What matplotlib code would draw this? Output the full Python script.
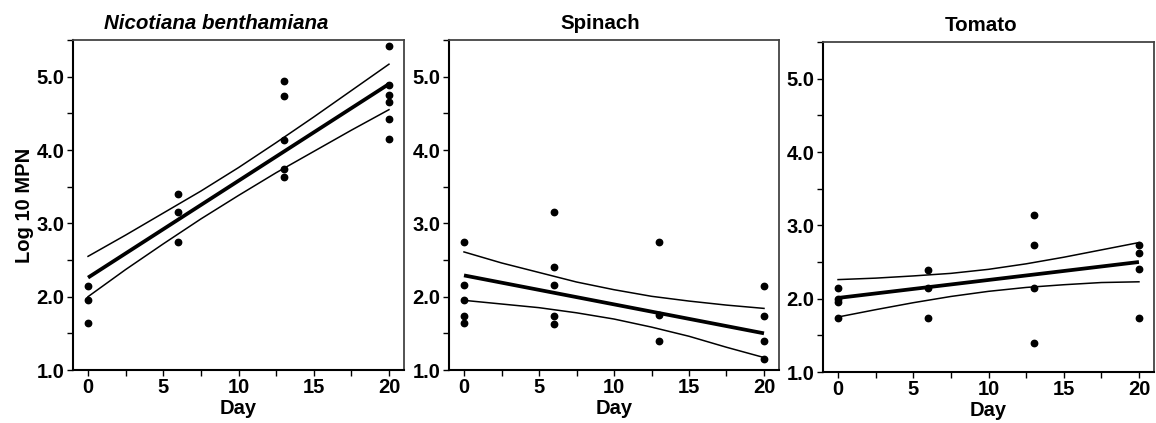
import numpy as np
import matplotlib
matplotlib.use("Agg")
import matplotlib.pyplot as plt
from matplotlib.ticker import MultipleLocator, FormatStrFormatter

plt.rcParams['font.family'] = ['Liberation Sans', 'DejaVu Sans']
plt.rcParams['font.weight'] = 'bold'

titles = ["Nicotiana benthamiana", "Spinach", "Tomato"]

# sampling days and log10 MPN replicates per plant
days = [0, 6, 13, 20]
nb_counts = [[2.14, 1.96, 1.64],
             [3.40, 3.15, 2.74],
             [4.94, 4.74, 4.14, 3.74, 3.63],
             [5.42, 4.89, 4.75, 4.65, 4.42, 4.15]]
spinach_counts = [[2.74, 2.16, 1.95, 1.74, 1.64],
                  [3.15, 2.40, 2.16, 1.74, 1.63],
                  [2.75, 1.75, 1.40],
                  [2.15, 1.74, 1.39, 1.15]]
tomato_counts = [[2.15, 1.99, 1.95, 1.74],
                 [2.39, 2.15, 1.73],
                 [3.14, 2.73, 2.15, 1.39],
                 [2.73, 2.62, 2.41, 1.73]]

# regression line at day 0 and day 20
fit_day0 = [2.26, 2.29, 2.01]
fit_day20 = [4.90, 1.50, 2.50]

# 95% confidence band
band_days = [0, 2.5, 5, 7.5, 10, 12.5, 15, 17.5, 20]
nb_upper = [2.55, 2.84, 3.14, 3.44, 3.76, 4.10, 4.45, 4.81, 5.17]
nb_lower = [2.00, 2.37, 2.72, 3.06, 3.38, 3.69, 3.98, 4.27, 4.55]
spinach_upper = [2.61, 2.46, 2.33, 2.20, 2.095, 2.005, 1.94, 1.885, 1.84]
spinach_lower = [1.95, 1.90, 1.85, 1.78, 1.695, 1.585, 1.46, 1.31, 1.17]
tomato_upper = [2.26, 2.28, 2.31, 2.345, 2.40, 2.475, 2.565, 2.665, 2.765]
tomato_lower = [1.75, 1.85, 1.945, 2.03, 2.10, 2.153, 2.19, 2.22, 2.23]

counts = [nb_counts, spinach_counts, tomato_counts]
uppers = [nb_upper, spinach_upper, tomato_upper]
lowers = [nb_lower, spinach_lower, tomato_lower]

W, H = 1156, 423
fig = plt.figure(figsize=(W / 100, H / 100), dpi=100)

# axes boxes in pixels: left, top, right, bottom
boxes = [(73, 40, 404, 370), (449, 40, 779, 370), (823, 42, 1154, 372)]
title_x = [0.434, 0.458, 0.479]

for i, (l, t, r, b) in enumerate(boxes):
    ax = fig.add_axes([l / W, (H - b) / H, (r - l) / W, (b - t) / H])

    for d, vals in zip(days, counts[i]):
        ax.plot([d] * len(vals), vals, 'o', color='black', ms=4.6, zorder=3)

    ax.plot([0, 20], [fit_day0[i], fit_day20[i]], color='black', lw=2.7,
            solid_capstyle='butt')
    ax.plot(band_days, uppers[i], color='black', lw=1.1)
    ax.plot(band_days, lowers[i], color='black', lw=1.1)

    ax.set_xlim(-1, 21)
    ax.set_ylim(1.0, 5.5)
    ax.xaxis.set_major_locator(MultipleLocator(5))
    ax.xaxis.set_minor_locator(MultipleLocator(2.5))
    ax.yaxis.set_minor_locator(MultipleLocator(0.5))
    ax.yaxis.set_major_formatter(FormatStrFormatter('%.1f'))
    ax.set_yticks([1.0, 2.0, 3.0, 4.0, 5.0])
    ax.tick_params(which='both', direction='out', length=4, width=1,
                   labelsize=14.5, pad=2)

    for side in ['left', 'bottom']:
        ax.spines[side].set_linewidth(1.5)
        ax.spines[side].set_color('black')
    for side in ['top', 'right']:
        ax.spines[side].set_linewidth(1.3)
        ax.spines[side].set_color('#444444')

    ax.set_xlabel("Day", fontsize=14.5, fontweight='bold', labelpad=1)
    style = 'italic' if i == 0 else 'normal'
    ax.set_title(titles[i], fontsize=14.8, fontweight='bold', fontstyle=style,
                 pad=8, x=title_x[i])
    if i == 0:
        ax.set_ylabel("Log 10 MPN", fontsize=14.5, fontweight='bold', labelpad=2)

fig.savefig("out.png", dpi=100)
